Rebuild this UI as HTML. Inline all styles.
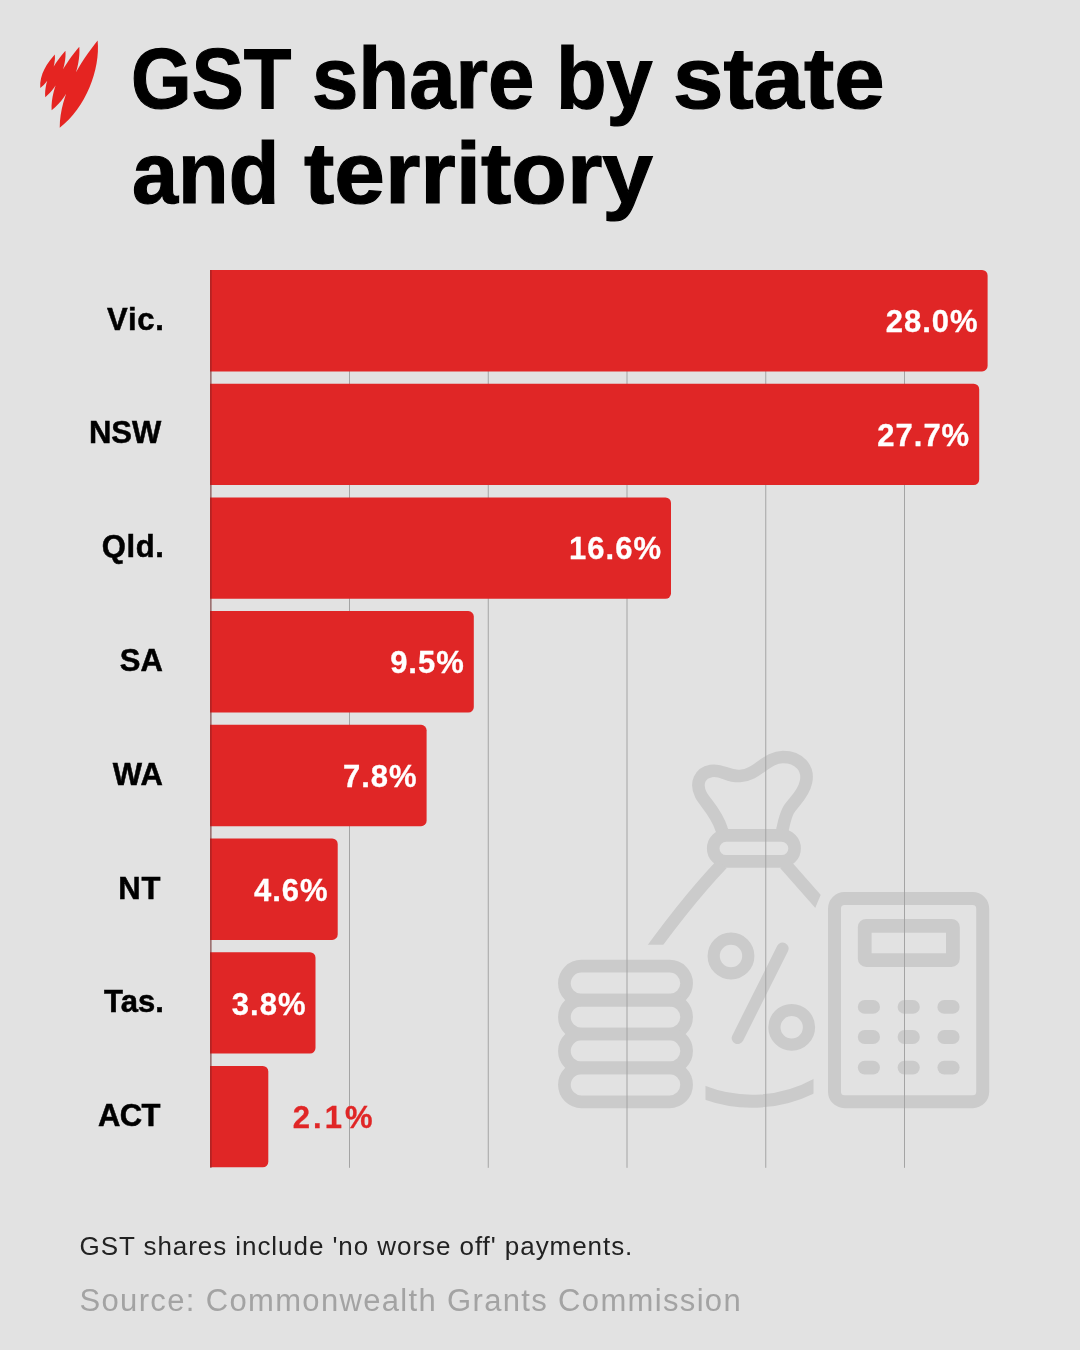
<!DOCTYPE html>
<html lang="en"><head><meta charset="utf-8"><title>GST share by state and territory</title>
<style>
html,body{margin:0;padding:0}
body{width:1080px;height:1350px;background:#e2e2e2;position:relative;overflow:hidden;font-family:"Liberation Sans",sans-serif}
svg.art{position:absolute;left:0;top:0}
h1{-webkit-text-stroke:1.2px #000;position:absolute;margin:0;left:0;top:0;width:1080px;height:240px;font-size:88px;line-height:88px;font-weight:700;color:#000;white-space:nowrap}
h1 span{position:absolute;display:block;transform-origin:0 74.5px}
.cat{-webkit-text-stroke:.5px #000;position:absolute;left:0;width:162px;text-align:right;font-size:31px;line-height:40px;font-weight:700;color:#000;white-space:nowrap}
.val{-webkit-text-stroke:.3px #fff;letter-spacing:1px;position:absolute;width:200px;text-align:right;font-size:31px;line-height:40px;font-weight:700;color:#fff;white-space:nowrap}
.val.out{text-align:left;color:#e02626;-webkit-text-stroke:.3px #e02626}
.note{position:absolute;left:79.5px;top:1229.5px;font-size:26px;line-height:32px;color:#222;white-space:nowrap;letter-spacing:.94px}
.src{position:absolute;left:79.5px;top:1281.5px;font-size:31px;line-height:38px;color:#a3a3a3;white-space:nowrap;letter-spacing:1.34px}
</style></head><body>
<svg class="art" width="1080" height="1350" viewBox="0 0 1080 1350">
<defs>
<clipPath id="bagclip"><path d="M540 730H1020V880H827L813.5 912V1130H705.5V944.8H540Z"/></clipPath>
</defs>
<g fill="none" stroke="#cbcbcb" stroke-width="12.7" stroke-linejoin="round">
<!-- coin stack -->
<rect x="564.4" y="966.2" width="122.2" height="33.9" rx="16.95"/>
<rect x="564.4" y="1000.1" width="122.2" height="33.9" rx="16.95"/>
<rect x="564.4" y="1034" width="122.2" height="33.9" rx="16.95"/>
<rect x="564.4" y="1067.9" width="122.2" height="33.9" rx="16.95"/>
<!-- money bag -->
<path d="M724 836L721.5 829C716 812 706 804 701 795C695 783 700 773 711 771C722 769 728 777 740 776C758 775 766 757 783 757C799 757 809 768 806 782C803 796 792 803 788 811C785 817 784 823 782.6 829L781.5 836" stroke-width="12.6"/>
<rect x="713.2" y="835.4" width="81.4" height="26" rx="13" stroke-width="12.6"/>
<g clip-path="url(#bagclip)" stroke-width="12.6">
<path d="M722 864Q683 905 636 972"/>
<path d="M785 864L830 915"/>
<path d="M700 1090.8A135 135 0 0 0 820 1082.8" stroke-width="13"/>
</g>
<!-- percent -->
<circle cx="731" cy="956" r="17.3" stroke-width="12.2"/>
<circle cx="791.7" cy="1027.3" r="17.3" stroke-width="12.2"/>
<path d="M782.6 948.5L737.7 1038.1" stroke-width="12" stroke-linecap="round"/>
<!-- calculator -->
<rect x="834.5" y="898.6" width="148.2" height="203.1" rx="10" stroke-width="13"/>
<rect x="864.7" y="925.8" width="88.2" height="34.3" rx="1.5" stroke-width="13.8"/>
</g>
<g fill="#cbcbcb">
<rect x="857.8" y="1000" width="22.2" height="13.8" rx="6.9"/><rect x="897.6" y="1000" width="22.2" height="13.8" rx="6.9"/><rect x="937.4" y="1000" width="22.2" height="13.8" rx="6.9"/>
<rect x="857.8" y="1030.1" width="22.2" height="13.8" rx="6.9"/><rect x="897.6" y="1030.1" width="22.2" height="13.8" rx="6.9"/><rect x="937.4" y="1030.1" width="22.2" height="13.8" rx="6.9"/>
<rect x="857.8" y="1060.7" width="22.2" height="13.8" rx="6.9"/><rect x="897.6" y="1060.7" width="22.2" height="13.8" rx="6.9"/><rect x="937.4" y="1060.7" width="22.2" height="13.8" rx="6.9"/>
</g>

<g stroke="#a4a4a4" stroke-width="1"><line x1="210.75" y1="270" x2="210.75" y2="1167.8"/><line x1="349.5" y1="270" x2="349.5" y2="1167.8"/><line x1="488.25" y1="270" x2="488.25" y2="1167.8"/><line x1="627.0" y1="270" x2="627.0" y2="1167.8"/><line x1="765.75" y1="270" x2="765.75" y2="1167.8"/><line x1="904.5" y1="270" x2="904.5" y2="1167.8"/></g>
<g fill="#e02626"><path d="M210 270.0h772.1a5.5 5.5 0 0 1 5.5 5.5v90.4a5.5 5.5 0 0 1 -5.5 5.5h-772.1z"/><path d="M210 383.7h763.7a5.5 5.5 0 0 1 5.5 5.5v90.4a5.5 5.5 0 0 1 -5.5 5.5h-763.7z"/><path d="M210 497.4h455.5a5.5 5.5 0 0 1 5.5 5.5v90.4a5.5 5.5 0 0 1 -5.5 5.5h-455.5z"/><path d="M210 611.1h258.3a5.5 5.5 0 0 1 5.5 5.5v90.4a5.5 5.5 0 0 1 -5.5 5.5h-258.3z"/><path d="M210 724.8h211.1a5.5 5.5 0 0 1 5.5 5.5v90.4a5.5 5.5 0 0 1 -5.5 5.5h-211.1z"/><path d="M210 838.5h122.2a5.5 5.5 0 0 1 5.5 5.5v90.4a5.5 5.5 0 0 1 -5.5 5.5h-122.2z"/><path d="M210 952.2h100.0a5.5 5.5 0 0 1 5.5 5.5v90.4a5.5 5.5 0 0 1 -5.5 5.5h-100.0z"/><path d="M210 1065.9h52.8a5.5 5.5 0 0 1 5.5 5.5v90.4a5.5 5.5 0 0 1 -5.5 5.5h-52.8z"/></g>
<line x1="210.9" y1="270" x2="210.9" y2="1167.8" stroke="#7c2020" stroke-width="1.4" opacity=".55"/>
<path fill="#e52421" d="M97.62 40.59C100.47 69.10 85.81 108.20 59.74 127.76C60.14 93.54 80.10 62.59 97.62 40.59ZM79.29 46.70C80.90 67.31 70.12 95.82 51.63 110.33C50.87 84.89 65.92 62.50 79.29 46.70ZM65.44 50.77C66.62 65.82 58.75 86.64 45.25 97.23C44.17 78.43 55.39 62.19 65.44 50.77ZM54.85 54.44C55.94 65.42 50.30 80.47 40.26 88.00C39.25 74.32 47.46 62.63 54.85 54.44Z"/>
</svg>
<h1><span style="left:131.4px;top:34px;transform:scale(0.886,0.97)">GST </span><span style="left:312.1px;top:34px;transform:scaleX(0.947)">share </span><span style="left:555.7px;top:34px;transform:scaleX(0.941)">by </span><span style="left:672.8px;top:34px;transform:scaleX(1.030)">state </span><span style="left:132.1px;top:129px;transform:scaleX(0.941)">and </span><span style="left:304px;top:129px;transform:scaleX(1.034)">territory</span></h1>
<div class="cat" style="top:299.5px;left:2.8px;letter-spacing:0.8px">Vic.</div><div class="val" style="top:301.7px;left:778.6px">28.0%</div><div class="cat" style="top:413.3px;left:-0.7px;letter-spacing:0px">NSW</div><div class="val" style="top:415.5px;left:770.2px">27.7%</div><div class="cat" style="top:527.1px;left:2.4px;letter-spacing:0.6px">Qld.</div><div class="val" style="top:529.3px;left:462.0px">16.6%</div><div class="cat" style="top:641.0px;left:0.8px;letter-spacing:0px">SA</div><div class="val" style="top:643.1px;left:264.8px">9.5%</div><div class="cat" style="top:754.8px;left:0.8px;letter-spacing:0px">WA</div><div class="val" style="top:756.9px;left:217.6px">7.8%</div><div class="cat" style="top:868.6px;left:-0.8px;letter-spacing:0.8px">NT</div><div class="val" style="top:870.7px;left:128.7px">4.6%</div><div class="cat" style="top:982.4px;left:1.8px;letter-spacing:0.0px">Tas.</div><div class="val" style="top:984.5px;left:106.5px">3.8%</div><div class="cat" style="top:1096.2px;left:-2.2px;letter-spacing:-0.6px">ACT</div><div class="val out" style="top:1098.1px;left:292.8px;letter-spacing:3px">2.1%</div>
<div class="note">GST shares include 'no worse off' payments.</div>
<div class="src">Source: Commonwealth Grants Commission</div>
</body></html>
